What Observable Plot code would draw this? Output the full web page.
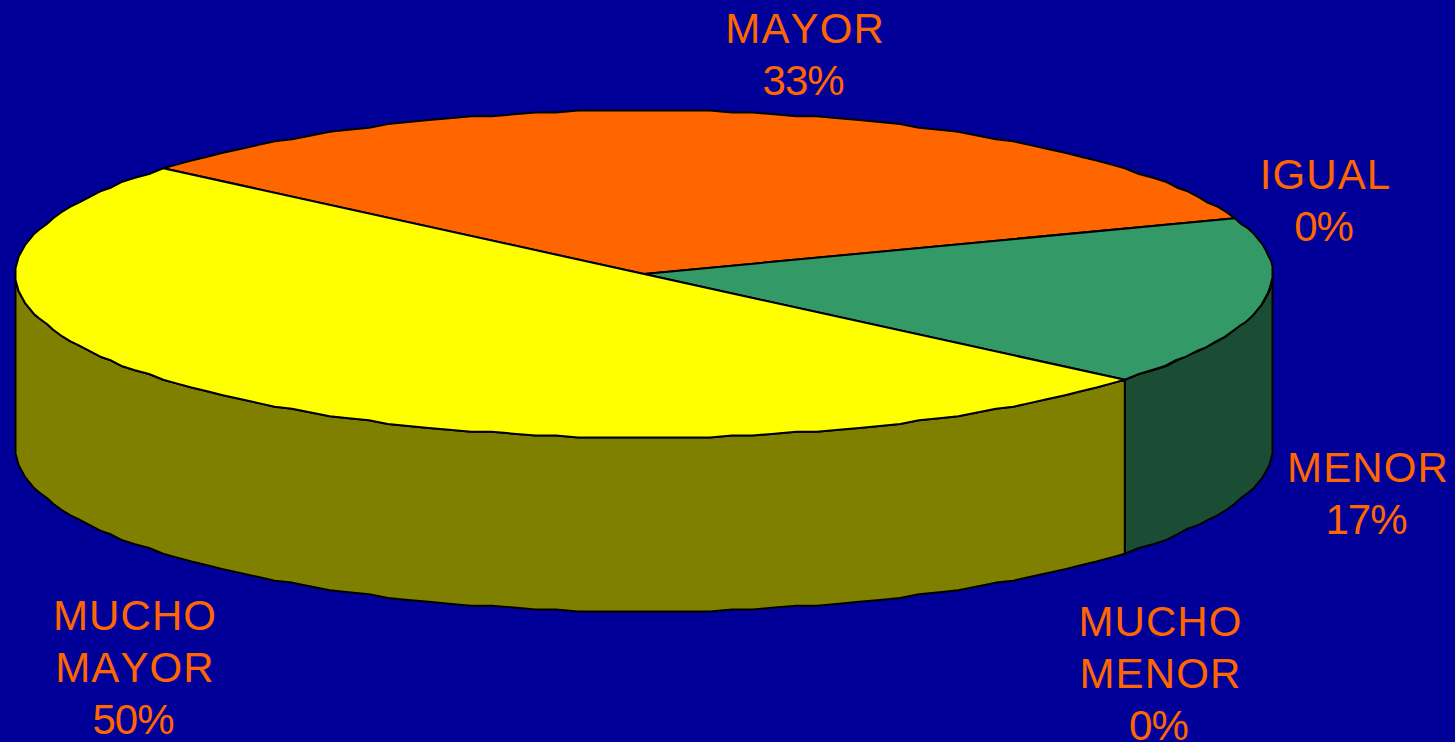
<!DOCTYPE html>
<html>
<head>
<meta charset="utf-8">
<style>
html,body{margin:0;padding:0;background:#000099;overflow:hidden}
svg{display:block}
.slice-name{letter-spacing:1.1px;font-kerning:none}
.slice-pct{letter-spacing:-1px;font-kerning:none}
</style>
<script src="https://cdn.jsdelivr.net/npm/d3@7"></script>
<script src="https://cdn.jsdelivr.net/npm/@observablehq/plot@0.6"></script>
</head>
<body>
<div id="chart"></div>
<script>
const categories = ["MAYOR", "IGUAL", "MENOR", "MUCHO\nMENOR", "MUCHO\nMAYOR"];
const shares = [33.33, 0, 16.67, 0, 50];
const topColors = ["#FF6600", "#0000FF", "#339966", "#FFCC00", "#FFFF00"];
const sideColors = ["#803300", "#000080", "#1A4D33", "#806600", "#808000"];

// layout (not data)
const firstSliceAngle = -50;
const thickness = 1.064;
const labelOffsets = [[52, -18], [91, 23], [105, 232], [35, 361], [-105, 335]];
const lineStep = 52;
const pctShift = -2;
const snapX = 400, snapY = 85; // fine rim grid, like the low-resolution outline of the original

const total = d3.sum(shares);
const toRad = (deg) => (deg * Math.PI) / 180;
const exact = (deg) => ({x: Math.sin(toRad(deg)), y: Math.cos(toRad(deg))});
const rim = (deg, drop = 0) => ({
  x: Math.round(Math.sin(toRad(deg)) * snapX) / snapX,
  y: Math.round(Math.cos(toRad(deg)) * snapY) / snapY - drop
});
const arc = (a, b, drop = 0) => {
  const n = Math.max(1, Math.ceil(Math.abs(b - a) / 2));
  return d3.range(n + 1).map((i) => rim(a + ((b - a) * i) / n, drop));
};

let cumulative = firstSliceAngle;
const slices = categories.map((name, i) => {
  const a0 = cumulative;
  const a1 = a0 + (shares[i] / total) * 360;
  cumulative = a1;
  return {
    name, share: shares[i], a0, a1, mid: (a0 + a1) / 2,
    top: topColors[i], side: sideColors[i],
    pct: d3.format(".0%")(shares[i] / total),
    offset: labelOffsets[i]
  };
});

const style = {stroke: "#000", strokeWidth: 2, strokeLinejoin: "round", curve: "linear-closed"};
const marks = [];
// front wall: the part of each slice between 90° and 270°
for (const s of slices) {
  const a = Math.max(s.a0, 90), b = Math.min(s.a1, 270);
  if (s.share > 0 && b > a) {
    marks.push(Plot.line([...arc(a, b), ...arc(a, b, thickness).reverse()],
      {x: "x", y: "y", ...style, fill: s.side}));
  }
}
// top caps
for (const s of slices) {
  if (s.share > 0) {
    marks.push(Plot.line([{x: 0, y: 0}, ...arc(s.a0, s.a1)],
      {x: "x", y: "y", ...style, fill: s.top}));
  }
}
// labels anchored on each slice's mid angle
const textStyle = {x: "x", y: "y", fill: "#FF6600", fontSize: 42, lineHeight: 1.238, textAnchor: "middle", lineAnchor: "bottom"};
for (const s of slices) {
  const p = exact(s.mid);
  marks.push(Plot.text([{...p, label: s.name}], {
    ...textStyle, text: "label", className: "slice-name",
    dx: s.offset[0], dy: s.offset[1] - lineStep
  }));
  marks.push(Plot.text([{...p, label: s.pct}], {
    ...textStyle, text: "label", className: "slice-pct",
    dx: s.offset[0] + pctShift, dy: s.offset[1]
  }));
}

const plot = Plot.plot({
  width: 1455, height: 742,
  marginTop: 0, marginRight: 0, marginBottom: 0, marginLeft: 0,
  x: {domain: [-1, 1], range: [15, 1272], axis: null},
  y: {domain: [-1, 1], range: [437, 110], axis: null},
  style: {background: "#000099", fontFamily: "'Liberation Sans', Arial, sans-serif", overflow: "hidden"},
  marks
});
document.getElementById("chart").appendChild(plot);
</script>
</body>
</html>
